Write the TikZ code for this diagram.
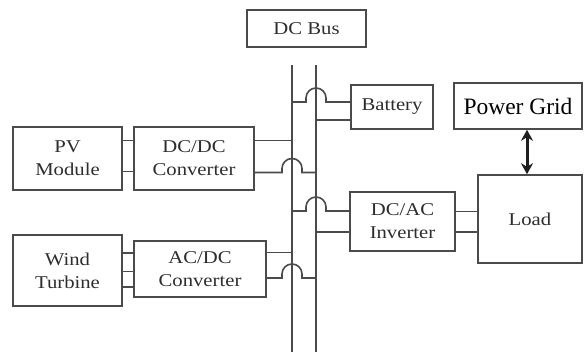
\documentclass[tikz,border=0pt]{standalone}
\usepackage{fontspec}
\setmainfont{Liberation Serif}[FakeStretch=1.15]
\newfontfamily\gridfont{Liberation Serif}
\usetikzlibrary{arrows.meta,calc}
\definecolor{linecol}{RGB}{75,75,75}
\definecolor{txtcol}{RGB}{45,45,45}
\begin{document}
\begin{tikzpicture}[x=1pt,y=-1pt,
  blk/.style={draw=linecol, line width=1.6pt, inner sep=0pt, align=center,
    text=txtcol, font=\fontsize{18}{23}\selectfont},
  wire/.style={draw=linecol, line width=1.6pt},
  thinwire/.style={draw=linecol, line width=0.9pt},
  busline/.style={draw=linecol, line width=1.7pt}]
\useasboundingbox (0,0) rectangle (584,353);
% boxes
\node[blk, minimum width=119pt, minimum height=37pt] (bus) at (306.5,28.5) {DC Bus};
\node[blk, minimum width=109pt, minimum height=63pt] (pv) at (67.5,158.5) {PV\\Module};
\node[blk, minimum width=120pt, minimum height=63pt] (dcdc) at (194,158.5) {DC/DC\\Converter};
\node[blk, minimum width=109pt, minimum height=71pt] (wind) at (67.5,270.5) {Wind\\Turbine};
\node[blk, minimum width=132pt, minimum height=56pt] (acdc) at (200,269) {AC/DC\\Converter};
\node[blk, minimum width=82pt, minimum height=44pt] (batt) at (392,107) {Battery};
\node[blk, minimum width=105pt, minimum height=59pt] (inv) at (402.5,221.5) {DC/AC\\Inverter};
\node[blk, minimum width=104pt, minimum height=88pt] (load) at (530,219) {Load};
\node[blk, minimum width=128pt, minimum height=46pt, text=black,
  font=\gridfont\fontsize{23.5}{26}\selectfont] (grid) at (518,106) {Power Grid};
% bus lines
\coordinate (bLt) at (292,65); \coordinate (bLb) at (292,352);
\coordinate (bRt) at (316,65); \coordinate (bRb) at (316,352);
\draw[busline] (bLt) -- (bLb);
\draw[busline] (bRt) -- (bRb);
% PV -> DC/DC
\draw[wire] (pv.east |- 0,140.5) -- (dcdc.west |- 0,140.5);
\draw[wire] (pv.east |- 0,171.5) -- (dcdc.west |- 0,171.5);
% DC/DC -> bus
\draw[wire] (dcdc.east |- 0,140.5) -- (bLt |- 0,140.5);
\draw[wire] (dcdc.east |- 0,172.5) -- ($(bLt |- 0,172.5)+(-10,0)$) -- ++(0,-4)
  arc[start angle=180,end angle=360,radius=10] -- ++(0,4) -- (bRt |- 0,172.5);
% Wind -> AC/DC
\draw[wire] (wind.east |- 0,253) -- (acdc.west |- 0,253);
\draw[wire] (wind.east |- 0,271.5) -- (acdc.west |- 0,271.5);
\draw[wire] (wind.east |- 0,287) -- (acdc.west |- 0,287);
% AC/DC -> bus
\draw[thinwire] (acdc.east |- 0,252) -- (bLt |- 0,252);
\draw[wire] (acdc.east |- 0,278) -- ($(bLt |- 0,278)+(-10,0)$) -- ++(0,-4)
  arc[start angle=180,end angle=360,radius=10] -- ++(0,4) -- (bRt |- 0,278);
% bus -> Battery
\draw[wire] (bLt |- 0,102) -- ($(bRt |- 0,102)+(-10,0)$) -- ++(0,-4)
  arc[start angle=180,end angle=360,radius=10] -- ++(0,4) -- (batt.west |- 0,102);
\draw[wire] (bRt |- 0,120) -- (batt.west |- 0,120);
% bus -> Inverter
\draw[wire] (bLt |- 0,211) -- ($(bRt |- 0,211)+(-10,0)$) -- ++(0,-4)
  arc[start angle=180,end angle=360,radius=10] -- ++(0,4) -- (inv.west |- 0,211);
\draw[wire] (bRt |- 0,232) -- (inv.west |- 0,232);
% Inverter -> Load
\draw[wire] (inv.east |- 0,211.5) -- (load.west |- 0,211.5);
\draw[wire] (inv.east |- 0,232) -- (load.west |- 0,232);
% Grid <-> Load
\draw[line width=3pt, draw=black!88, {Stealth[length=11pt,width=12pt]}-{Stealth[length=11pt,width=12pt]}]
  (grid.south -| 527,0) -- (load.north -| 527,0);
\end{tikzpicture}
\end{document}
